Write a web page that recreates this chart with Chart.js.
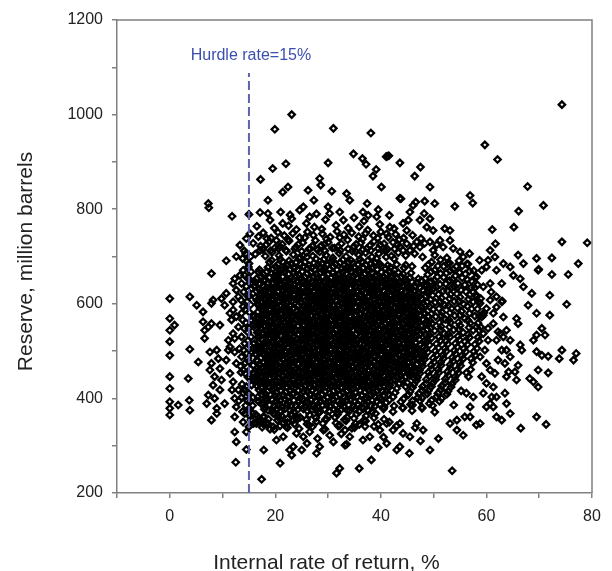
<!DOCTYPE html>
<html>
<head>
<meta charset="utf-8">
<title>Reserve vs internal rate of return</title>
<style>
  html, body { margin: 0; padding: 0; background: #ffffff; }
  canvas { display: block; }
</style>
<script src="https://cdn.jsdelivr.net/npm/chart.js@4/dist/chart.umd.min.js"></script>
</head>
<body>
<canvas id="chart" width="612" height="571"></canvas>
<script>
// Hurdle rate marker
const hurdleRate = 15;          // IRR, %
const hurdleTop = 1088;         // reserve where the dashed marker ends
const hurdleLabel = 'Hurdle rate=15%';
const hurdleLabelReserve = 1124;

const xTitle = 'Internal rate of return, %';
const yTitle = 'Reserve, million barrels';

// Axis ranges and tick steps
const irrRange = [-10, 80];
const reserveRange = [200, 1200];
const irrStep = 10;
const reserveStep = 100;

// Simulated projects, stored as flat [irr, reserve, irr, reserve, ...] lists.
// Projects below the hurdle rate
const leftTail = [
  0,611, 0,569, 0.9,555, 0,544, 0,520, 0,491, 0,446, 0,421, 0,393, 0,379, 0,365, 1.6,386,
  3.8,615, 5.1,597, 3.8,504, 5.4,477, 3.5,442, 3.7,396, 3.8,375,
  6.3,583, 7.9,601, 8.2,608, 9.8,611, 10.4,597, 10.7,622,
  6.3,562, 7.3,551, 6.6,544, 6.6,527, 7.9,558, 9.5,555, 11.4,580, 12.0,587, 11.7,566,
  7.6,498, 8.9,502, 9.2,484, 7.9,474, 9.5,463, 7.6,460, 8.5,446, 9.8,439, 8.2,428, 9.5,418, 7.3,407, 8.5,400, 7.0,389, 8.9,379,
  10.7,481, 11.4,509, 11.1,523, 12.0,537, 7.9,354, 8.9,368, 10.4,389,
  7.9,664, 10.7,691, 12.6,700, 14.4,706,
  12.0,643, 12.3,653, 12.6,629, 13.0,615, 12.0,604, 13.3,660, 13.9,671, 13.6,643, 13.9,594, 13.6,580,
  12.6,573, 13.0,551, 12.3,527, 11.1,502, 12.3,498, 13.6,488, 12.6,474, 11.4,453, 12.0,435, 13.0,418, 12.3,400, 12.6,382, 12.3,361,
  14.2,516, 13.9,460, 13.9,411, 14.2,368,
  7.3,812, 7.4,803, 11.8,785, 14.5,738, 13.3,724,
  14.6,690, 14.8,655, 14.0,625, 14.7,605, 14.4,560, 14.8,540, 14.6,495, 14.3,475, 14.8,445, 14.5,425, 14.7,395, 14.4,385,
  13.2,505, 13.5,455, 13.1,395, 11.8,418,
  14.1,712, 13.8,696, 14.9,678, 14.2,660, 14.5,637, 14.9,615, 13.5,608, 14.3,588, 13.8,566, 14.1,548, 13.6,530, 14.8,522,
  14.0,502, 14.8,485, 13.4,468, 14.4,452, 13.7,430, 14.2,418, 13.6,402, 14.9,375, 13.8,372, 13.9,350
];

// Large reserves
const upperTail = [
  23.1,1000, 19.9,969, 31.0,971, 34.8,917, 30.0,898, 22.0,896, 19.5,886, 17.2,863, 28.4,865, 28.6,851,
  22.4,847, 21.4,836, 26.2,840, 30.7,838, 33.5,833, 34.1,819, 18.6,819, 27.3,819, 25.3,805, 24.6,798,
  15.0,789, 17.1,793, 18.6,791, 19.0,777, 21.0,794, 21.4,770, 30.0,805, 30.3,791, 32.2,794, 32.9,777,
  26.5,784, 25.9,770, 23.1,780,
  74.3,1021, 38.1,961, 59.7,936, 62.1,905, 41.2,912, 41.5,913, 41.0,911, 36.5,907, 37.2,895, 39.1,884,
  38.5,870, 43.6,898, 47.5,889, 46.4,870, 40.1,847, 49.3,847, 43.6,823, 43.8,822, 46.6,815, 46.1,808,
  48.3,817, 50.2,812, 37.4,812, 36.6,794, 37.6,787, 39.5,799, 39.2,784, 41.6,787, 54.0,806, 56.9,829,
  57.4,813, 67.8,848, 70.8,808, 66.1,796, 65.2,762, 45.5,794, 45.2,777, 48.2,791, 47.4,777, 49.3,780,
  44.2,770, 41.7,762
];

// Small reserves
const lowerTail = [
  17.4,229, 12.5,265, 20.9,263, 23.1,280, 22.7,291, 23.4,298, 25.0,291, 27.8,284, 28.4,298, 31.6,242,
  32.2,252, 33.2,301, 33.5,303, 35.9,252, 38.2,270, 53.5,247, 49.3,291, 45.4,284, 43.6,298, 43.0,291,
  41.1,305, 50.9,315, 55.6,322, 54.4,333, 58.1,344, 56.9,361,
  20.2,312, 21.5,319, 24.0,326, 25.3,319, 26.5,329, 29.1,333, 30.3,322, 31.0,308, 33.2,333, 34.1,319,
  45.5,319, 44.2,326, 48.0,333, 42.3,333, 36.6,312, 37.9,319, 39.8,333,
  17.8,291, 14.5,292, 12.6,308, 12.3,329, 14.5,329,
  19.0,335, 22.3,338, 28.0,315, 32.5,325, 35.0,338, 40.5,318, 43.0,342, 46.5,338, 47.5,310, 39.5,296, 26.0,305,
  66.5,337, 69.5,361, 71.3,345,
  17.7,361, 16.4,347, 18.3,347, 19.6,340, 21.5,347, 23.4,354, 15.8,368
];

// High returns
const rightTail = [
  67.0,685, 69.5,696, 69.8,671, 69.9,673, 72.4,697, 77.4,685, 75.5,662, 72.4,662, 75.2,599, 72.0,618,
  72.0,576, 74.3,502, 73.8,484, 77.0,495, 76.5,481, 71.7,489, 71.7,454, 69.5,499, 70.5,491, 68.9,523,
  69.5,534, 70.5,548, 71.1,534, 69.5,580, 69.8,460, 68.2,442, 68.9,435, 69.8,424, 64.5,368, 62.9,354,
  61.9,361, 61.3,382, 63.8,389, 63.5,411, 65.7,439, 65.4,456, 66.0,470, 66.4,513, 66.7,502, 66.0,558,
  65.7,569, 67.9,597, 68.6,622, 67.0,636, 66.4,653, 65.1,660, 64.5,678, 63.2,685, 61.6,699, 62.9,604,
  63.0,606, 61.9,593, 61.3,580, 63.2,572, 63.8,544, 63.2,530, 64.5,523, 63.5,474, 64.2,456, 63.8,446,
  64.5,488, 63.8,502, 61.9,523, 62.2,541, 61.3,558, 60.3,548, 59.4,576, 60.0,590, 60.7,608, 60.9,625,
  61.9,615, 58.1,657, 59.1,671, 60.3,692, 60.0,678, 60.7,643, 59.4,636, 58.8,347, 60.0,382, 59.4,411,
  61.0,403, 56.9,382, 57.5,403, 56.2,411, 53.1,347, 54.4,354, 55.9,361, 46.8,347, 43.6,347, 41.1,347,
  58.1,615, 58.8,601, 59.1,572, 58.1,551, 59.4,537, 60.3,523, 59.7,502, 58.8,488, 60.0,474, 60.7,460,
  59.1,446, 60.0,432, 61.3,424, 61.9,403, 60.7,389, 62.6,537, 62.9,502, 62.2,481, 61.6,453, 62.9,643,
  61.9,671, 66.0,703, 61.1,757, 61.7,727, 74.3,731, 79.1,729, 60.7,713
];

// Ring of medium density round the main cluster
const fringe = [
  22.5,765, 24.0,757, 27.4,762, 28.8,758, 31.5,766, 33.8,760, 35.9,763, 37.5,756, 39.8,768, 42.5,759, 19.8,760, 16.5,764,
  16.8,742, 18.4,738, 20.5,751, 21.7,744, 23.3,749, 24.6,740, 26.1,752, 27.2,745, 28.9,748, 30.4,741, 31.7,753, 33.0,746,
  34.5,750, 35.8,742, 37.1,749, 38.6,744, 40.0,752, 41.4,741, 42.8,747, 44.3,739, 46.0,745, 36.8,775, 29.5,778, 34.9,782,
  27.8,790, 22.8,788,
  15.8,728, 17.2,722, 18.8,731, 19.9,718, 21.3,726, 22.6,733, 23.9,720, 25.2,729, 26.4,716, 27.6,734, 28.7,723, 30.0,730,
  31.2,718, 32.5,727, 33.7,735, 34.9,721, 36.2,729, 37.4,717, 38.7,732, 39.9,724, 41.2,716, 42.3,730, 43.6,721, 46.2,722,
  48.3,728, 50.6,725,
  16.2,705, 18.1,701, 19.4,709, 20.7,702, 22.1,711, 23.4,704, 24.7,698, 25.9,708, 27.1,701, 28.4,710, 29.6,703, 30.9,697,
  32.1,707, 33.4,700, 34.6,711, 35.8,703, 37.1,708, 38.3,699, 39.6,706, 40.8,712, 42.0,701, 43.3,708, 44.7,702, 46.4,706,
  47.9,699, 50.2,703, 52.5,697, 56.8,706, 58.7,692,
  15.2,748, 17.7,750, 17.1,713, 20.2,734, 48.7,762, 49.9,755, 52.1,759, 53.1,755, 53.1,734, 53.7,717, 46.8,731, 47.4,720,
  49.3,731, 49.9,713, 44.9,727, 45.5,713, 44.9,755, 41.1,748, 55.0,710, 55.6,699, 51.2,734, 51.8,720,
  49.6,688, 51.3,693, 53.0,686, 54.8,691, 56.5,684,
  48.4,676, 50.2,671, 51.9,679, 53.7,673, 55.4,680, 57.6,670,
  48.9,662, 50.7,657, 52.4,665, 54.1,659, 56.0,663, 57.9,655,
  49.5,647, 51.2,641, 53.0,649, 54.6,643, 56.4,651, 58.3,640,
  50.0,633, 51.8,627, 53.5,635, 55.2,629, 57.1,634,
  49.8,618, 51.5,612, 53.2,620, 55.0,614, 56.8,619, 58.9,611,
  50.3,603, 52.1,597, 53.9,605, 55.7,599, 57.5,604,
  49.9,588, 51.6,582, 53.4,590, 55.3,584, 57.2,589, 59.5,581,
  50.4,573, 52.2,567, 54.0,575, 55.9,569, 57.8,574,
  49.7,558, 51.4,552, 53.2,560, 55.0,554, 56.9,559, 58.9,551,
  50.2,543, 52.0,537, 53.8,545, 55.6,539, 57.5,544,
  49.6,528, 51.3,522, 53.1,530, 54.9,524, 56.8,529, 58.6,521,
  49.2,513, 50.9,507, 52.7,515, 54.5,509, 56.4,514, 58.2,506,
  48.9,498, 50.6,492, 52.4,500, 54.2,494, 56.1,499, 57.9,491,
  48.3,483, 50.1,477, 51.9,485, 53.7,479, 55.6,484, 57.4,476,
  47.9,468, 49.6,462, 51.4,470, 53.2,464, 55.1,469, 57.0,461,
  47.4,453, 49.2,447, 51.0,455, 52.8,449, 54.7,454, 56.6,446,
  46.8,438, 48.6,432, 50.4,440, 52.2,434, 54.1,439,
  46.0,423, 47.8,417, 49.6,425, 51.4,419, 53.3,424, 55.2,416,
  45.2,408, 47.0,402, 48.8,410, 50.6,404, 52.5,409,
  43.8,393, 45.6,387, 47.4,395, 49.2,389, 51.1,394, 53.8,386,
  40.5,378, 42.3,372, 44.1,380, 45.9,374, 47.8,379, 50.2,371,
  16.3,366, 17.9,361, 19.6,368, 21.2,363, 23.0,367, 24.7,360, 26.5,365, 28.2,369, 30.0,362, 31.8,366, 33.6,360, 35.4,367,
  37.2,363, 39.0,368,
  16.8,352, 18.6,347, 20.4,354, 22.3,349, 24.1,355, 26.0,346, 27.8,351, 29.7,356, 31.5,348, 33.4,353, 35.2,347, 37.1,352,
  39.5,345, 41.6,350,
  17.5,339, 19.8,334, 22.0,341, 24.5,336, 27.0,340, 29.4,335, 31.9,342, 34.5,337, 37.0,341,
  15.3,700, 15.0,685, 15.4,668, 15.1,650, 15.5,632, 15.0,618, 15.3,598, 15.1,582, 15.5,565, 15.0,548, 15.4,530, 15.1,512,
  15.5,496, 15.0,478, 15.3,462, 15.1,445, 15.5,428, 15.0,410, 15.3,394, 15.1,378, 15.4,355, 15.0,340
];

// Second ring, filling the gaps of the first one
const fringeInner = [
  49.0,683, 50.8,680, 52.6,685, 54.3,679, 56.3,684,
  49.5,668, 51.3,664, 53.1,670, 54.9,666, 56.8,669,
  48.4,653, 50.1,649, 51.9,656, 53.6,651, 55.4,655, 57.2,648,
  48.7,639, 50.5,635, 52.3,642, 54.0,636, 55.9,640, 57.8,634,
  49.1,624, 50.9,620, 52.6,627, 54.4,621, 56.1,626, 58.0,619,
  49.4,609, 51.2,605, 53.0,611, 54.8,606, 56.6,610, 58.5,604,
  49.2,594, 51.0,590, 52.8,596, 54.5,591, 56.4,595, 58.3,589,
  49.6,579, 51.4,575, 53.1,581, 55.0,576, 56.8,580, 58.7,574,
  49.3,564, 51.1,560, 52.9,566, 54.7,561, 56.5,565, 58.4,559,
  49.5,549, 51.3,545, 53.0,551, 54.8,546, 56.7,550, 58.6,544,
  49.2,534, 51.0,530, 52.8,536, 54.6,531, 56.5,535, 58.4,529,
  48.7,519, 50.5,515, 52.3,521, 54.1,516, 55.9,520, 57.8,514,
  48.5,504, 50.3,500, 52.1,506, 53.9,501, 55.7,505, 57.6,499,
  48.2,489, 49.9,485, 51.7,491, 53.5,486, 55.3,490, 57.1,484,
  47.8,474, 49.5,470, 51.3,476, 53.1,471, 54.9,475,
  47.3,459, 49.0,455, 50.8,461, 52.6,456, 54.4,460, 56.2,454,
  46.9,444, 48.6,440, 50.4,446, 52.2,441, 54.0,445,
  46.2,429, 47.9,425, 49.7,431, 51.5,426, 53.4,430,
  45.5,414, 47.2,410, 49.0,416, 50.8,411, 52.7,415,
  44.3,399, 46.0,395, 47.8,401, 49.6,396, 51.5,400,
  42.5,384, 44.2,380, 46.0,386, 47.8,381, 49.8,385,
  17.6,715, 19.1,712, 20.6,717, 22.0,713, 23.7,716, 25.0,711, 26.6,717, 28.0,714, 29.4,712, 30.8,718, 32.3,713, 33.8,716,
  35.2,711, 36.6,715, 38.1,713, 39.5,717, 41.0,712, 42.6,716, 44.2,713,
  18.3,725, 20.9,721, 24.4,726, 27.0,722, 29.3,726, 31.9,721, 35.3,726, 37.9,723, 40.6,727, 43.1,724,
  19.2,739, 22.4,736, 25.6,740, 29.7,737, 32.2,740, 36.5,737, 39.4,739, 43.5,736, 47.6,738,
  16.9,359, 18.7,356, 20.5,361, 22.3,357, 24.1,360, 25.9,355, 27.7,359, 29.5,356, 31.3,360, 33.1,355, 34.9,358, 36.8,354,
  38.7,359, 40.6,356,
  17.8,345, 20.9,342, 23.6,346, 26.4,343, 29.0,347, 32.2,343, 35.9,345, 38.7,341,
  15.6,645, 15.7,574, 15.7,556, 15.8,505, 15.8,470, 15.8,438, 15.8,402, 15.7,385, 15.2,362, 15.9,347
];

// Main cluster
const coreCloud = [
  19.3,692,20.9,694,22.6,691,24.5,696,26.0,699,27.7,695,29.2,694,30.9,691,32.8,693,34.3,692,36.0,694,37.5,691,39.2,696,41.0,699,42.5,695,
  18.9,688,20.5,683,21.4,689,22.3,682,23.0,685,23.9,687,24.8,684,25.6,688,26.4,681,27.3,686,28.1,683,28.9,685,29.8,682,30.5,689,31.4,684,32.3,687,33.0,681,33.9,688,34.8,686,35.6,683,36.4,689,37.2,682,38.1,685,38.9,687,39.8,684,41.3,681,43.0,683,44.7,682,
  17.0,672,18.6,677,19.5,674,20.1,678,21.1,671,21.9,676,22.8,673,23.6,675,24.2,672,25.3,679,26.1,674,26.9,677,27.5,671,28.4,678,29.4,676,30.2,673,31.0,679,31.7,672,32.6,675,33.6,677,34.1,674,35.0,678,35.9,671,36.7,676,37.6,673,38.3,675,39.3,672,40.0,679,40.9,674,41.8,677,42.6,671,44.4,676,45.9,679,
  16.8,667,17.7,662,18.4,668,19.3,664,20.3,661,20.9,666,21.8,669,22.6,663,23.5,665,24.5,661,25.1,668,26.0,664,26.8,667,27.7,662,28.6,666,29.2,669,30.1,663,30.9,665,31.9,661,32.8,667,33.4,664,34.3,668,35.1,662,36.0,666,36.9,663,37.5,669,38.4,665,39.2,661,40.1,667,41.0,664,41.6,668,42.5,662,43.3,666,44.2,663,45.7,665,
  16.4,653,17.3,658,18.0,651,18.9,656,19.8,659,20.5,654,21.4,657,22.3,652,23.0,655,23.9,659,24.8,653,25.6,656,26.4,651,27.3,658,28.1,654,28.9,657,29.8,652,30.5,655,31.4,659,32.3,653,33.0,656,33.9,651,34.8,658,35.6,654,36.4,657,37.2,652,38.1,655,38.9,659,39.8,653,40.6,656,41.3,651,42.2,658,43.0,654,43.9,657,44.7,652,45.5,655,47.1,653,
  16.2,646,17.0,641,17.9,648,18.6,643,19.5,645,20.1,649,21.1,642,21.9,647,22.8,644,23.6,641,24.2,646,25.3,649,26.1,643,26.9,647,27.5,642,28.4,645,29.4,648,30.2,641,31.0,646,31.7,644,32.6,649,33.6,642,34.1,647,35.0,643,35.9,645,36.7,648,37.6,641,38.3,646,39.3,644,40.0,649,40.9,642,41.8,647,42.6,643,43.5,645,44.4,648,45.0,641,45.9,646,46.8,644,47.7,649,
  16.0,637,16.8,632,17.7,638,18.4,634,19.3,631,20.3,636,20.9,639,21.8,633,22.6,635,23.5,631,24.5,638,25.1,634,26.0,637,26.8,632,27.7,636,28.6,639,29.2,633,30.1,635,30.9,631,31.9,637,32.8,634,33.4,638,34.3,632,35.1,636,36.0,633,36.9,639,37.5,635,38.4,631,39.2,637,40.1,634,41.0,638,41.6,632,42.5,636,43.3,633,44.2,639,45.1,635,45.7,631,46.6,637,47.4,634,48.3,638,49.0,632,
  16.4,627,17.3,622,18.0,629,18.9,624,19.8,621,20.5,626,21.4,628,22.3,623,23.0,625,23.9,629,24.8,622,25.6,626,26.4,623,27.3,628,28.1,621,28.9,627,29.8,625,30.5,624,31.4,627,32.3,622,33.0,629,33.9,624,34.8,621,35.6,626,36.4,628,37.2,623,38.1,625,38.9,629,39.8,622,40.6,626,41.3,623,42.2,628,43.0,621,43.9,627,44.7,625,45.5,624,46.3,627,47.1,622,48.0,629,48.7,624,
  16.2,613,17.0,618,17.9,611,18.6,616,19.5,619,20.1,614,21.1,617,21.9,612,22.8,615,23.6,619,24.2,613,25.3,616,26.1,611,26.9,618,27.5,614,28.4,617,29.4,612,30.2,615,31.0,613,31.7,618,32.6,611,33.6,616,34.1,619,35.0,614,35.9,617,36.7,612,37.6,615,38.3,619,39.3,613,40.0,616,40.9,611,41.8,618,42.6,614,43.5,617,44.4,612,45.0,615,45.9,613,46.8,618,47.7,611,48.5,616,
  16.5,607,17.3,602,18.2,609,18.9,604,19.8,601,20.8,606,21.4,608,22.3,603,23.1,605,24.0,609,25.0,602,25.6,606,26.5,603,27.3,608,28.2,601,29.1,607,29.7,605,30.6,604,31.4,607,32.4,602,33.3,609,33.9,604,34.8,601,35.6,606,36.5,608,37.4,603,38.0,605,38.9,609,39.7,602,40.6,606,41.5,603,42.1,608,43.0,601,43.8,607,44.7,605,45.6,604,46.2,607,47.1,602,47.9,609,48.8,604,
  16.9,598,17.8,593,18.5,595,19.4,599,20.3,592,21.0,596,21.9,593,22.8,598,23.5,591,24.4,597,25.3,595,26.1,594,26.9,597,27.8,592,28.6,599,29.4,594,30.3,591,31.0,596,31.9,598,32.8,593,33.5,595,34.4,599,35.3,592,36.1,596,36.9,593,37.7,598,38.6,591,39.4,597,40.3,595,41.1,594,41.8,597,42.7,592,43.5,599,44.4,594,45.2,591,46.0,596,46.8,598,47.6,593,48.5,595,
  16.7,583,17.5,588,18.4,581,19.1,587,20.0,585,20.6,584,21.6,587,22.4,582,23.3,589,24.1,584,24.7,581,25.8,586,26.6,588,27.4,583,28.0,585,28.9,589,29.9,582,30.7,586,31.5,583,32.2,588,33.1,581,34.1,587,34.6,585,35.5,584,36.4,587,37.2,582,38.1,589,38.8,584,39.8,581,40.5,586,41.4,588,42.3,583,43.1,585,44.0,589,44.9,582,45.5,586,46.4,583,47.3,588,48.2,581,
  16.0,574,16.8,571,17.7,576,18.4,578,19.3,573,20.3,575,20.9,579,21.8,572,22.6,576,23.5,573,24.5,578,25.1,571,26.0,577,26.8,575,27.7,574,28.6,577,29.2,572,30.1,579,30.9,574,31.9,571,32.8,576,33.4,578,34.3,573,35.1,575,36.0,579,36.9,572,37.5,576,38.4,573,39.2,578,40.1,571,41.0,577,41.6,575,42.5,574,43.3,577,44.2,572,45.1,579,45.7,574,46.6,571,47.4,576,48.3,578,49.0,573,
  16.4,569,17.3,562,18.0,566,18.9,563,19.8,568,20.5,561,21.4,567,22.3,565,23.0,564,23.9,567,24.8,562,25.6,569,26.4,564,27.3,561,28.1,566,28.9,568,29.8,563,30.5,565,31.4,569,32.3,562,33.0,566,33.9,563,34.8,568,35.6,561,36.4,567,37.2,565,38.1,564,38.9,567,39.8,562,40.6,569,41.3,564,42.2,561,43.0,566,43.9,568,44.7,563,45.5,565,46.3,569,47.1,562,48.0,566,48.7,563,
  16.2,557,17.0,555,17.9,554,18.6,557,19.5,552,20.1,559,21.1,554,21.9,551,22.8,556,23.6,558,24.2,553,25.3,555,26.1,559,26.9,552,27.5,556,28.4,553,29.4,558,30.2,551,31.0,557,31.7,555,32.6,554,33.6,557,34.1,552,35.0,559,35.9,554,36.7,551,37.6,556,38.3,558,39.3,553,40.0,555,40.9,559,41.8,552,42.6,556,43.5,553,44.4,558,45.0,551,45.9,557,46.8,555,47.7,554,48.5,557,
  16.5,545,17.3,549,18.2,542,18.9,546,19.8,543,20.8,548,21.4,541,22.3,547,23.1,545,24.0,544,25.0,547,25.6,542,26.5,549,27.3,544,28.2,541,29.1,546,29.7,548,30.6,543,31.4,545,32.4,549,33.3,542,33.9,546,34.8,543,35.6,548,36.5,541,37.4,547,38.0,545,38.9,544,39.7,547,40.6,542,41.5,549,42.1,544,43.0,541,43.8,546,44.7,548,45.6,543,46.2,545,47.1,549,47.9,542,48.8,546,
  16.9,531,17.8,537,18.5,535,19.4,534,20.3,537,21.0,532,21.9,539,22.8,534,23.5,531,24.4,536,25.3,538,26.1,533,26.9,535,27.8,539,28.6,532,29.4,536,30.3,533,31.0,538,31.9,531,32.8,537,33.5,535,34.4,534,35.3,537,36.1,532,36.9,539,37.7,534,38.6,531,39.4,536,40.3,538,41.1,533,41.8,535,42.7,539,43.5,532,44.4,536,45.2,533,46.0,538,46.8,531,47.6,537,48.5,535,
  16.7,529,17.5,524,18.4,521,19.1,526,20.0,528,20.6,523,21.6,525,22.4,529,23.3,522,24.1,526,24.7,523,25.8,528,26.6,521,27.4,527,28.0,525,28.9,524,29.9,527,30.7,522,31.5,529,32.2,524,33.1,521,34.1,526,34.6,528,35.5,523,36.4,525,37.2,529,38.1,522,38.8,526,39.8,523,40.5,528,41.4,521,42.3,527,43.1,525,44.0,524,44.9,527,45.5,522,46.4,529,47.3,524,48.2,521,
  16.0,516,16.8,518,17.7,513,18.4,515,19.3,519,20.3,512,20.9,516,21.8,513,22.6,518,23.5,511,24.5,517,25.1,515,26.0,514,26.8,517,27.7,512,28.6,519,29.2,514,30.1,511,30.9,516,31.9,518,32.8,513,33.4,515,34.3,519,35.1,512,36.0,516,36.9,513,37.5,518,38.4,511,39.2,517,40.1,515,41.0,514,41.6,517,42.5,512,43.3,519,44.2,514,45.1,511,45.7,516,46.6,518,47.4,513,
  16.4,506,17.3,503,18.0,508,18.9,501,19.8,507,20.5,505,21.4,504,22.3,507,23.0,502,23.9,509,24.8,504,25.6,501,26.4,506,27.3,508,28.1,503,28.9,505,29.8,509,30.5,502,31.4,506,32.3,503,33.0,508,33.9,501,34.8,507,35.6,505,36.4,504,37.2,507,38.1,502,38.9,509,39.8,504,40.6,501,41.3,506,42.2,508,43.0,503,43.9,505,44.7,509,45.5,502,46.3,506,47.1,503,48.0,508,
  16.2,494,17.0,497,17.9,492,18.6,499,19.5,494,20.1,491,21.1,496,21.9,498,22.8,493,23.6,495,24.2,499,25.3,492,26.1,496,26.9,493,27.5,498,28.4,491,29.4,497,30.2,495,31.0,494,31.7,497,32.6,492,33.6,499,34.1,494,35.0,491,35.9,496,36.7,498,37.6,493,38.3,495,39.3,499,40.0,492,40.9,496,41.8,493,42.6,498,43.5,491,44.4,497,45.0,495,45.9,494,46.8,497,47.7,492,
  16.5,481,17.3,486,18.2,488,18.9,483,19.8,485,20.8,489,21.4,482,22.3,486,23.1,483,24.0,488,25.0,481,25.6,487,26.5,485,27.3,484,28.2,487,29.1,482,29.7,489,30.6,484,31.4,481,32.4,486,33.3,488,33.9,483,34.8,485,35.6,489,36.5,482,37.4,486,38.0,483,38.9,488,39.7,481,40.6,487,41.5,485,42.1,484,43.0,487,43.8,482,44.7,489,45.6,484,46.2,481,47.1,486,47.9,488,
  16.9,472,17.8,476,18.5,473,19.4,478,20.3,471,21.0,477,21.9,475,22.8,474,23.5,477,24.4,472,25.3,479,26.1,474,26.9,471,27.8,476,28.6,478,29.4,473,30.3,475,31.0,479,31.9,472,32.8,476,33.5,473,34.4,478,35.3,471,36.1,477,36.9,475,37.7,474,38.6,477,39.4,472,40.3,479,41.1,474,41.8,471,42.7,476,43.5,478,44.4,473,45.2,475,46.0,479,46.8,472,
  16.7,465,17.5,464,18.4,467,19.1,462,20.0,469,20.6,464,21.6,461,22.4,466,23.3,468,24.1,463,24.7,465,25.8,469,26.6,462,27.4,466,28.0,463,28.9,468,29.9,461,30.7,467,31.5,465,32.2,464,33.1,467,34.1,462,34.6,469,35.5,464,36.4,461,37.2,466,38.1,468,38.8,463,39.8,465,40.5,469,41.4,462,42.3,466,43.1,463,44.0,468,44.9,461,45.5,467,46.4,465,
  16.0,452,16.8,459,17.7,454,18.4,451,19.3,456,20.3,458,20.9,453,21.8,455,22.6,459,23.5,452,24.5,456,25.1,453,26.0,458,26.8,451,27.7,457,28.6,455,29.2,454,30.1,457,30.9,452,31.9,459,32.8,454,33.4,451,34.3,456,35.1,458,36.0,453,36.9,455,37.5,459,38.4,452,39.2,456,40.1,453,41.0,458,41.6,451,42.5,457,43.3,455,44.2,454,45.1,457,45.7,452,46.6,459,
  16.4,443,17.3,445,18.0,449,18.9,442,19.8,446,20.5,443,21.4,448,22.3,441,23.0,447,23.9,445,24.8,444,25.6,447,26.4,442,27.3,449,28.1,444,28.9,441,29.8,446,30.5,448,31.4,443,32.3,445,33.0,449,33.9,442,34.8,446,35.6,443,36.4,448,37.2,441,38.1,447,38.9,445,39.8,444,40.6,447,41.3,442,42.2,449,43.0,444,43.9,441,44.7,446,45.5,448,46.3,443,
  16.2,438,17.0,431,17.9,437,18.6,435,19.5,434,20.1,437,21.1,432,21.9,439,22.8,434,23.6,431,24.2,436,25.3,438,26.1,433,26.9,435,27.5,439,28.4,432,29.4,436,30.2,433,31.0,438,31.7,431,32.6,437,33.6,435,34.1,434,35.0,437,35.9,432,36.7,439,37.6,434,38.3,431,39.3,436,40.0,438,40.9,433,41.8,435,42.6,439,43.5,432,45.0,433,
  16.5,427,17.3,422,18.2,429,18.9,424,19.8,421,20.8,426,21.4,428,22.3,423,23.1,425,24.0,429,25.0,422,25.6,426,26.5,423,27.3,428,28.2,421,29.1,427,29.7,425,30.6,424,31.4,427,32.4,422,33.3,429,33.9,424,34.8,421,35.6,426,36.5,428,37.4,423,38.0,425,38.9,429,39.7,422,40.6,426,41.5,423,43.0,421,44.7,425,
  16.9,418,17.8,413,18.5,415,19.4,419,20.3,412,21.0,416,21.9,413,22.8,418,23.5,411,24.4,417,25.3,415,26.1,414,26.9,417,27.8,412,28.6,419,29.4,414,30.3,411,31.0,416,31.9,418,32.8,413,33.5,415,34.4,419,35.3,412,36.1,416,36.9,413,37.7,418,38.6,411,39.4,417,40.3,415,41.1,414,42.7,412,
  16.7,403,17.5,408,18.4,401,19.1,407,20.0,405,20.6,404,21.6,407,22.4,402,23.3,409,24.1,404,24.7,401,25.8,406,26.6,408,27.4,403,28.0,405,28.9,409,29.9,402,30.7,406,31.5,403,32.2,408,33.1,401,34.1,407,34.6,405,35.5,404,36.4,407,37.2,402,38.1,409,38.8,404,39.8,401,40.5,406,41.4,408,42.3,403,
  16.8,394,17.7,391,18.4,396,19.3,398,20.3,393,20.9,395,21.8,399,22.6,392,23.5,396,24.5,393,25.1,398,26.0,391,26.8,397,27.7,395,28.6,394,29.2,397,30.1,392,30.9,399,31.9,394,32.8,391,33.4,396,34.3,398,35.1,393,36.0,395,36.9,399,37.5,392,38.4,396,39.2,393,40.1,398,41.0,391,41.6,397,
  17.3,389,18.0,382,18.9,386,19.8,383,20.5,388,21.4,381,22.3,387,23.0,385,23.9,384,24.8,387,25.6,382,26.4,389,27.3,384,28.1,381,28.9,386,29.8,388,30.5,383,31.4,385,32.3,389,33.0,382,33.9,386,34.8,383,35.6,388,36.4,381,37.2,387,38.1,385,38.9,384,39.8,387,40.6,382,
  17.9,377,18.6,375,19.5,374,20.1,377,21.1,372,21.9,379,22.8,374,23.6,371,24.2,376,25.3,378,26.1,373,26.9,375,27.5,379,28.4,372,29.4,376,30.2,373,31.0,378,31.7,371,32.6,377,33.6,375,34.1,374,35.0,377,35.9,372,36.7,379,37.6,374,38.3,371
];

// Centre of the main cluster, where the projects overlap most
const coreCentre = [
  20.2,652,21.9,649,23.4,650,25.1,647,26.5,653,28.3,648,29.8,651,31.4,649,33.0,652,34.5,647,36.2,650,37.7,653,39.4,648,40.9,651,42.6,649,
  19.5,642,21.1,639,22.7,641,24.3,637,25.8,643,27.5,640,29.0,638,30.6,642,32.2,639,33.8,641,35.3,637,37.0,643,38.6,640,40.2,638,41.7,642,43.4,639,
  18.3,628,19.9,632,21.5,629,23.0,633,24.7,627,26.2,630,27.9,632,29.4,628,31.0,631,32.6,629,34.2,633,35.7,627,37.4,630,38.9,632,40.5,628,42.1,631,43.8,629,45.3,633,
  17.1,619,18.8,622,20.2,618,21.9,621,23.4,620,25.1,623,26.5,617,28.3,622,29.8,619,31.4,621,33.0,618,34.5,623,36.2,620,37.7,617,39.4,622,40.9,619,42.6,621,44.1,618,45.8,622,
  17.9,612,19.5,608,21.1,611,22.7,609,24.3,613,25.8,607,27.5,610,29.0,612,30.6,608,32.2,611,33.8,609,35.3,613,37.0,607,38.6,610,40.2,612,41.7,608,43.4,611,45.0,609,46.6,613,
  16.6,599,18.3,602,19.9,598,21.5,601,23.0,597,24.7,603,26.2,600,27.9,598,29.4,602,31.0,599,32.6,601,34.2,597,35.7,603,37.4,600,38.9,598,40.5,602,42.1,599,43.8,601,45.3,597,46.9,603,
  17.1,591,18.8,588,20.2,592,21.9,589,23.4,590,25.1,587,26.5,593,28.3,588,29.8,591,31.4,589,33.0,592,34.5,587,36.2,590,37.7,593,39.4,588,40.9,591,42.6,589,44.1,592,45.8,588,
  17.9,578,19.5,582,21.1,579,22.7,581,24.3,577,25.8,583,27.5,580,29.0,578,30.6,582,32.2,579,33.8,581,35.3,577,37.0,583,38.6,580,40.2,578,41.7,582,43.4,579,45.0,581,46.6,577,
  16.6,571,18.3,568,19.9,572,21.5,569,23.0,573,24.7,567,26.2,570,27.9,572,29.4,568,31.0,571,32.6,569,34.2,573,35.7,567,37.4,570,38.9,572,40.5,568,42.1,571,43.8,569,45.3,573,46.9,567,
  17.1,559,18.8,562,20.2,558,21.9,561,23.4,560,25.1,563,26.5,557,28.3,562,29.8,559,31.4,561,33.0,558,34.5,563,36.2,560,37.7,557,39.4,562,40.9,559,42.6,561,44.1,558,45.8,562,
  17.9,552,19.5,548,21.1,551,22.7,549,24.3,553,25.8,547,27.5,550,29.0,552,30.6,548,32.2,551,33.8,549,35.3,553,37.0,547,38.6,550,40.2,552,41.7,548,43.4,551,45.0,549,46.6,553,
  16.6,539,18.3,542,19.9,538,21.5,541,23.0,537,24.7,543,26.2,540,27.9,538,29.4,542,31.0,539,32.6,541,34.2,537,35.7,543,37.4,540,38.9,538,40.5,542,42.1,539,43.8,541,45.3,537,46.9,543,
  17.1,531,18.8,528,20.2,532,21.9,529,23.4,530,25.1,527,26.5,533,28.3,528,29.8,531,31.4,529,33.0,532,34.5,527,36.2,530,37.7,533,39.4,528,40.9,531,42.6,529,44.1,532,45.8,528,
  17.9,518,19.5,522,21.1,519,22.7,521,24.3,517,25.8,523,27.5,520,29.0,518,30.6,522,32.2,519,33.8,521,35.3,517,37.0,523,38.6,520,40.2,518,41.7,522,43.4,519,45.0,521,46.6,517,
  16.6,511,18.3,508,19.9,512,21.5,509,23.0,513,24.7,507,26.2,510,27.9,512,29.4,508,31.0,511,32.6,509,34.2,513,35.7,507,37.4,510,38.9,512,40.5,508,42.1,511,43.8,509,45.3,513,46.9,507,
  17.1,499,18.8,502,20.2,498,21.9,501,23.4,500,25.1,503,26.5,497,28.3,502,29.8,499,31.4,501,33.0,498,34.5,503,36.2,500,37.7,497,39.4,502,40.9,499,42.6,501,44.1,498,45.8,502,
  17.9,492,19.5,488,21.1,491,22.7,489,24.3,493,25.8,487,27.5,490,29.0,492,30.6,488,32.2,491,33.8,489,35.3,493,37.0,487,38.6,490,40.2,492,41.7,488,43.4,491,45.0,489,46.6,493,
  16.6,479,18.3,482,19.9,478,21.5,481,23.0,477,24.7,483,26.2,480,27.9,478,29.4,482,31.0,479,32.6,481,34.2,477,35.7,483,37.4,480,38.9,478,40.5,482,42.1,479,43.8,481,45.3,477,46.9,483,
  17.1,471,18.8,468,20.2,472,21.9,469,23.4,470,25.1,467,26.5,473,28.3,468,29.8,471,31.4,469,33.0,472,34.5,467,36.2,470,37.7,473,39.4,468,40.9,471,42.6,469,44.1,472,45.8,468,
  17.9,458,19.5,462,21.1,459,22.7,461,24.3,457,25.8,463,27.5,460,29.0,458,30.6,462,32.2,459,33.8,461,35.3,457,37.0,463,38.6,460,40.2,458,41.7,462,43.4,459,45.0,461,
  16.6,451,18.3,448,19.9,452,21.5,449,23.0,453,24.7,447,26.2,450,27.9,452,29.4,448,31.0,451,32.6,449,34.2,453,35.7,447,37.4,450,38.9,452,40.5,448,42.1,451,43.8,449,45.3,453,
  17.1,439,18.8,442,20.2,438,21.9,441,23.4,440,25.1,443,26.5,437,28.3,442,29.8,439,31.4,441,33.0,438,34.5,443,36.2,440,37.7,437,39.4,442,40.9,439,42.6,441,44.1,438,
  17.9,432,19.5,428,21.1,431,22.7,429,24.3,433,25.8,427,27.5,430,29.0,432,30.6,428,32.2,431,33.8,429,35.3,433,37.0,427,38.6,430,40.2,432,41.7,428,43.4,431
];

function toPoints(flat) {
  const pts = [];
  for (let i = 0; i + 1 < flat.length; i += 2) pts.push({ x: flat[i], y: flat[i + 1] });
  return pts;
}

const projects = [leftTail, upperTail, lowerTail, rightTail, fringe, fringeInner, coreCloud, coreCentre].flatMap(toPoints);

const FONT = '"Liberation Sans", Arial, Helvetica, sans-serif';
const AXIS_GREY = '#808080';
const TEXT = '#222222';

// Frame, hurdle caption and axis titles
const decorations = {
  id: 'decorations',
  afterDraw(chart) {
    const { ctx, chartArea: a, scales: { x, y } } = chart;
    ctx.save();
    ctx.strokeStyle = AXIS_GREY;
    ctx.lineWidth = 1.5;
    ctx.beginPath();
    ctx.moveTo(a.left, a.top);
    ctx.lineTo(a.right, a.top);
    ctx.lineTo(a.right, a.bottom);
    ctx.stroke();

    ctx.fillStyle = '#3b4fae';
    ctx.font = '16px ' + FONT;
    ctx.textAlign = 'center';
    ctx.textBaseline = 'middle';
    ctx.fillText(hurdleLabel, x.getPixelForValue(hurdleRate) + 2, y.getPixelForValue(hurdleLabelReserve));

    ctx.fillStyle = TEXT;
    ctx.font = '21px ' + FONT;
    ctx.textBaseline = 'alphabetic';
    ctx.fillText(xTitle, a.left + 209.5, 569);

    ctx.translate(32, (a.top + a.bottom) / 2 + 5);
    ctx.rotate(-Math.PI / 2);
    ctx.fillText(yTitle, 0, 0);
    ctx.restore();
  }
};

new Chart(document.getElementById('chart'), {
  type: 'scatter',
  data: {
    datasets: [
      {
        type: 'line',
        label: 'Hurdle rate',
        data: [{ x: hurdleRate, y: reserveRange[0] }, { x: hurdleRate, y: hurdleTop }],
        borderColor: '#5f63aa',
        borderWidth: 2,
        borderDash: [9, 4],
        pointRadius: 0,
        fill: false,
        order: 0
      },
      {
        label: 'Projects',
        data: projects,
        pointStyle: 'rectRot',
        pointRadius: 3.2,
        pointHoverRadius: 3.2,
        pointBorderWidth: 2.3,
        borderColor: '#000000',
        backgroundColor: 'rgba(0,0,0,0)',
        order: 1
      }
    ]
  },
  options: {
    responsive: false,
    animation: false,
    events: [],
    layout: { padding: { top: 20, right: 20, left: 0, bottom: 0 } },
    plugins: { legend: { display: false }, tooltip: { enabled: false } },
    scales: {
      x: {
        type: 'linear',
        min: irrRange[0],
        max: irrRange[1],
        afterFit(scale) { scale.height = 78; },
        ticks: {
          stepSize: irrStep,
          autoSkip: false,
          maxRotation: 0,
          padding: 9,
          color: TEXT,
          font: { family: FONT, size: 16 },
          callback: v => (v >= 0 && v % 20 === 0) ? String(v) : ''
        },
        grid: { drawOnChartArea: false, drawTicks: true, tickLength: 5, color: AXIS_GREY, lineWidth: 1.5 },
        border: { display: true, color: AXIS_GREY, width: 1.5 }
      },
      y: {
        type: 'linear',
        min: reserveRange[0],
        max: reserveRange[1],
        afterFit(scale) { scale.width = 117; },
        ticks: {
          stepSize: reserveStep,
          autoSkip: false,
          padding: 9,
          color: TEXT,
          font: { family: FONT, size: 16 },
          callback: v => (v % 200 === 0) ? String(v) : ''
        },
        grid: { drawOnChartArea: false, drawTicks: true, tickLength: 5, color: AXIS_GREY, lineWidth: 1.5 },
        border: { display: true, color: AXIS_GREY, width: 1.5 }
      }
    }
  },
  plugins: [decorations]
});
</script>
</body>
</html>
